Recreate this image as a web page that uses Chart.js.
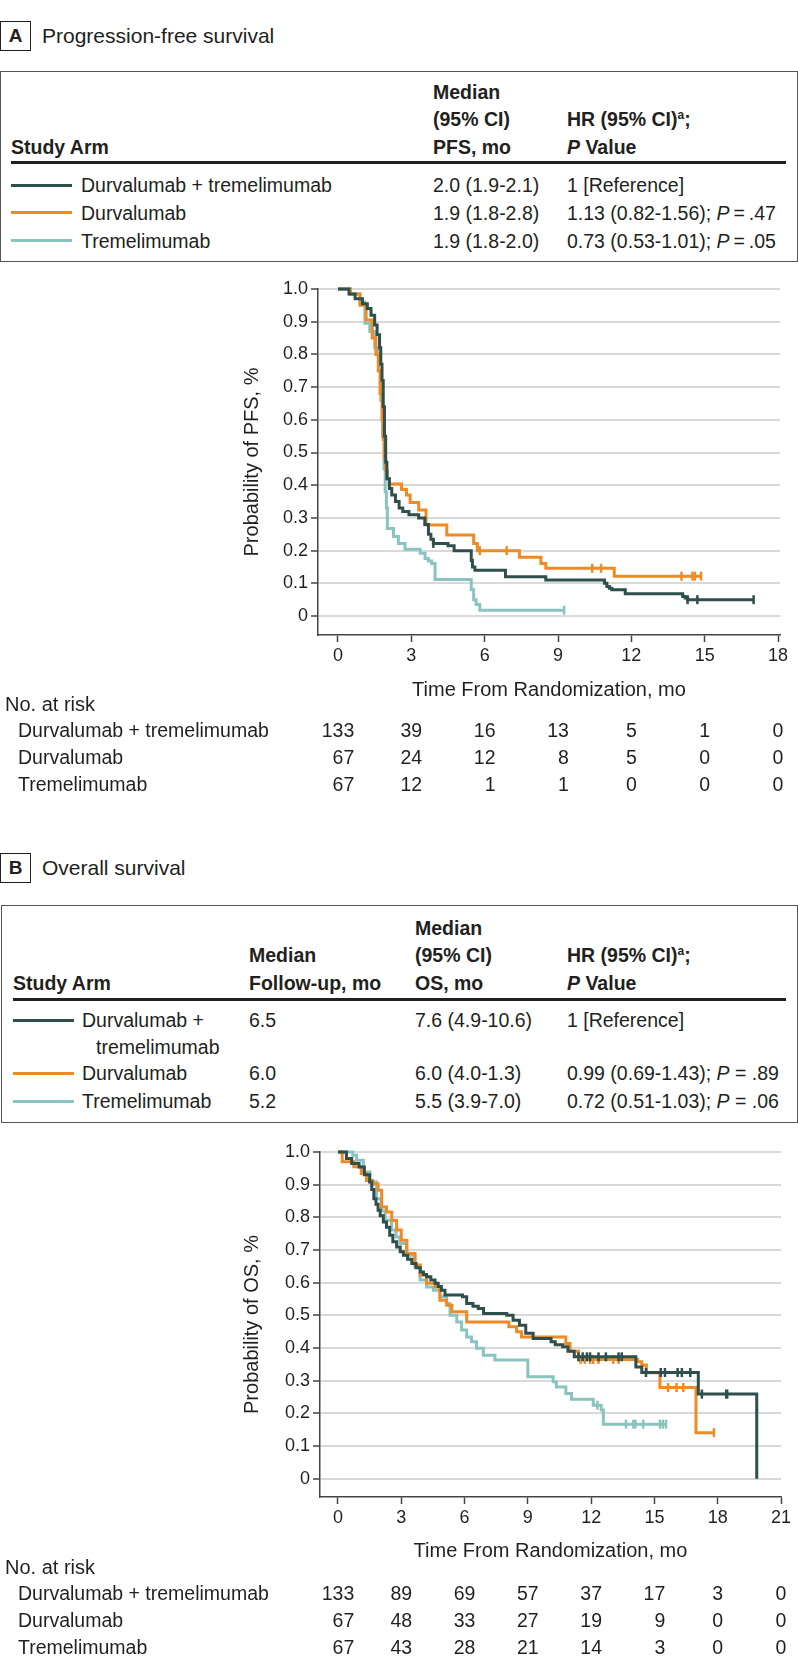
<!DOCTYPE html>
<html>
<head>
<meta charset="utf-8">
<script src="https://cdn.jsdelivr.net/npm/chart.js@4.4.1/dist/chart.umd.min.js"></script>
<style>
body { margin: 0; background: #fff; }
#page { position: relative; width: 798px; height: 1680px; font-family: "Liberation Sans", Arial, sans-serif; color: #231f20; font-size: 19.5px; }
.t { position: absolute; white-space: nowrap; line-height: 24px; }
.b { font-weight: bold; }
.box { position: absolute; border: 1.5px solid #555; box-sizing: border-box; }
.tag { position: absolute; border: 1.5px solid #231f20; box-sizing: border-box; font-weight: bold; text-align: center; width: 31px; height: 30px; line-height: 27px; font-size: 19px; }
.rule { position: absolute; height: 2.5px; background: #231f20; }
.key { position: absolute; height: 3px; width: 61px; }
canvas { position: absolute; left: 0; }
sup { font-size: 12px; line-height: 0; vertical-align: 7px; }
</style>
</head>
<body>
<div id="page">
  <!-- A: progression-free survival -->
  <div class="tag" style="left:0;top:21px">A</div>
  <div class="t" style="left:42px;top:24px;font-size:21px">Progression-free survival</div>
  <div class="box" style="left:0;top:71px;width:798px;height:191px"></div>
  <div class="t b" style="left:433px;top:80px">Median</div>
  <div class="t b" style="left:433px;top:107px">(95% CI)</div>
  <div class="t b" style="left:433px;top:135px">PFS, mo</div>
  <div class="t b" style="left:567px;top:107px">HR (95% CI)<sup>a</sup>;</div>
  <div class="t b" style="left:567px;top:135px"><i>P</i> Value</div>
  <div class="t b" style="left:11px;top:135px">Study Arm</div>
  <div class="rule" style="left:11px;top:161px;width:775px"></div>

  <div class="key" style="left:11px;top:183.5px;background:#2e4f4c"></div>
  <div class="t" style="left:81px;top:173px">Durvalumab + tremelimumab</div>
  <div class="t" style="left:433px;top:173px">2.0 (1.9-2.1)</div>
  <div class="t" style="left:567px;top:173px">1 [Reference]</div>
  <div class="key" style="left:11px;top:211px;background:#f08a24"></div>
  <div class="t" style="left:81px;top:200.5px">Durvalumab</div>
  <div class="t" style="left:433px;top:200.5px">1.9 (1.8-2.8)</div>
  <div class="t" style="left:567px;top:200.5px">1.13 (0.82-1.56); <i>P</i>&thinsp;=&thinsp;.47</div>
  <div class="key" style="left:11px;top:239px;background:#8ac4c0"></div>
  <div class="t" style="left:81px;top:228.5px">Tremelimumab</div>
  <div class="t" style="left:433px;top:228.5px">1.9 (1.8-2.0)</div>
  <div class="t" style="left:567px;top:228.5px">0.73 (0.53-1.01); <i>P</i>&thinsp;=&thinsp;.05</div>

  <canvas id="chartPFS" width="798" height="530" style="top:270px"></canvas>

  <!-- B: overall survival -->
  <div class="tag" style="left:0;top:853px">B</div>
  <div class="t" style="left:42px;top:856px;font-size:21px">Overall survival</div>
  <div class="box" style="left:1px;top:905px;width:797px;height:218px"></div>
  <div class="t b" style="left:415px;top:916px">Median</div>
  <div class="t b" style="left:249px;top:943px">Median</div>
  <div class="t b" style="left:415px;top:943px">(95% CI)</div>
  <div class="t b" style="left:567px;top:943px">HR (95% CI)<sup>a</sup>;</div>
  <div class="t b" style="left:13px;top:971px">Study Arm</div>
  <div class="t b" style="left:249px;top:971px">Follow-up, mo</div>
  <div class="t b" style="left:415px;top:971px">OS, mo</div>
  <div class="t b" style="left:567px;top:971px"><i>P</i> Value</div>
  <div class="rule" style="left:13px;top:998px;width:773px"></div>

  <div class="key" style="left:13px;top:1018.5px;background:#2e4f4c"></div>
  <div class="t" style="left:82px;top:1008px">Durvalumab +</div>
  <div class="t" style="left:96px;top:1034.5px">tremelimumab</div>
  <div class="t" style="left:249px;top:1008px">6.5</div>
  <div class="t" style="left:415px;top:1008px">7.6 (4.9-10.6)</div>
  <div class="t" style="left:567px;top:1008px">1 [Reference]</div>
  <div class="key" style="left:13px;top:1071.5px;background:#f08a24"></div>
  <div class="t" style="left:82px;top:1061px">Durvalumab</div>
  <div class="t" style="left:249px;top:1061px">6.0</div>
  <div class="t" style="left:415px;top:1061px">6.0 (4.0-1.3)</div>
  <div class="t" style="left:567px;top:1061px">0.99 (0.69-1.43); <i>P</i> = .89</div>
  <div class="key" style="left:13px;top:1099.5px;background:#8ac4c0"></div>
  <div class="t" style="left:82px;top:1089px">Tremelimumab</div>
  <div class="t" style="left:249px;top:1089px">5.2</div>
  <div class="t" style="left:415px;top:1089px">5.5 (3.9-7.0)</div>
  <div class="t" style="left:567px;top:1089px">0.72 (0.51-1.03); <i>P</i> = .06</div>

  <canvas id="chartOS" width="798" height="550" style="top:1130px"></canvas>
</div>

<script>
// ---- data ----
const armLabels = ["Durvalumab + tremelimumab", "Durvalumab", "Tremelimumab"];
const armColors = ["#2e4f4c", "#f08a24", "#8ac4c0"];
const probTicks = [0, 0.1, 0.2, 0.3, 0.4, 0.5, 0.6, 0.7, 0.8, 0.9, 1.0];

// PFS, durvalumab + tremelimumab
const pfsTimeDT = [0, 0.45, 0.7, 1.0, 1.2, 1.35, 1.5, 1.6, 1.7, 1.75, 1.8, 1.85, 1.9, 1.95, 2.0, 2.1, 2.2, 2.35, 2.5, 2.65, 2.9, 3.3, 3.55, 3.7, 3.8, 3.9, 4.5, 4.75, 5.45, 5.5, 5.6, 6.85, 8.5, 10.9, 11.0, 11.1, 11.2, 11.75, 14.1, 14.2, 14.3, 17.0];
const pfsSurvDT = [1.0, 0.985, 0.97, 0.955, 0.94, 0.92, 0.89, 0.86, 0.82, 0.77, 0.72, 0.64, 0.55, 0.47, 0.42, 0.39, 0.37, 0.35, 0.33, 0.32, 0.31, 0.30, 0.28, 0.25, 0.235, 0.222, 0.215, 0.20, 0.17, 0.15, 0.14, 0.12, 0.11, 0.10, 0.09, 0.085, 0.08, 0.068, 0.06, 0.055, 0.05, 0.05];
const pfsCensDT = [3.9, 14.3, 14.7, 17.0];
// PFS, durvalumab
const pfsTimeD = [0, 0.5, 0.9, 1.15, 1.4, 1.55, 1.65, 1.72, 1.8, 1.85, 1.9, 1.95, 2.02, 2.1, 2.6, 2.8, 2.95, 3.3, 3.6, 4.45, 5.55, 5.7, 7.42, 8.3, 8.5, 11.3, 14.85];
const pfsSurvD = [1.0, 0.985, 0.95, 0.905, 0.85, 0.8, 0.75, 0.68, 0.6, 0.54, 0.48, 0.445, 0.42, 0.404, 0.387, 0.37, 0.347, 0.324, 0.278, 0.248, 0.222, 0.2, 0.18, 0.161, 0.146, 0.122, 0.122];
const pfsCensD = [5.8, 6.9, 10.4, 10.76, 14.05, 14.5, 14.6, 14.85];
// PFS, tremelimumab
const pfsTimeT = [0, 0.5, 0.9, 1.1, 1.3, 1.5, 1.65, 1.75, 1.82, 1.88, 1.93, 1.98, 2.02, 2.27, 2.47, 2.74, 3.36, 3.56, 3.7, 3.83, 3.97, 5.45, 5.55, 5.65, 5.8, 9.25];
const pfsSurvT = [1.0, 0.985, 0.96, 0.895, 0.87, 0.82, 0.75, 0.66, 0.55, 0.45, 0.38, 0.33, 0.268, 0.243, 0.222, 0.204, 0.192, 0.176, 0.168, 0.161, 0.112, 0.08, 0.05, 0.035, 0.018, 0.018];
const pfsCensT = [9.25];

// OS, durvalumab + tremelimumab
const osTimeDT = [0, 0.4, 0.65, 1.0, 1.25, 1.5, 1.6, 1.7, 1.8, 1.9, 2.0, 2.15, 2.3, 2.45, 2.6, 2.78, 2.95, 3.1, 3.3, 3.5, 3.7, 3.9, 4.05, 4.2, 4.4, 4.6, 4.75, 4.9, 5.07, 5.9, 6.1, 6.4, 6.65, 6.9, 8.0, 8.3, 8.6, 8.9, 9.25, 10.1, 10.3, 10.65, 10.9, 11.2, 14.12, 14.4, 17.08, 19.85];
const osSurvDT = [1.0, 0.98, 0.965, 0.954, 0.93, 0.908, 0.885, 0.857, 0.84, 0.822, 0.805, 0.786, 0.77, 0.745, 0.725, 0.709, 0.695, 0.684, 0.672, 0.659, 0.646, 0.633, 0.625, 0.618, 0.608, 0.598, 0.588, 0.577, 0.562, 0.557, 0.536, 0.528, 0.521, 0.506, 0.5, 0.485, 0.47, 0.445, 0.429, 0.419, 0.41, 0.404, 0.39, 0.373, 0.342, 0.325, 0.259, 0];
const osCensDT = [11.4, 11.6, 11.8, 11.95, 12.35, 12.7, 13.3, 13.45, 14.6, 15.3, 15.5, 16.1, 16.3, 16.7, 17.25, 18.4, 18.45];
// OS, durvalumab
const osTimeD = [0, 0.2, 0.75, 1.1, 1.35, 1.65, 1.9, 2.07, 2.3, 2.55, 2.78, 3.0, 3.26, 3.65, 3.9, 4.2, 4.6, 4.83, 5.15, 5.4, 6.1, 8.1, 8.47, 8.7, 10.8, 11.0, 11.4, 14.2, 14.4, 14.62, 15.26, 16.97, 17.82];
const osSurvD = [1.0, 0.97, 0.955, 0.934, 0.913, 0.903, 0.883, 0.832, 0.816, 0.79, 0.761, 0.73, 0.689, 0.654, 0.623, 0.598, 0.587, 0.546, 0.531, 0.511, 0.48, 0.465, 0.45, 0.434, 0.414, 0.39, 0.365, 0.358, 0.348, 0.324, 0.279, 0.141, 0.141];
const osCensD = [11.5, 11.7, 11.95, 12.1, 12.35, 13.05, 13.3, 15.65, 16.05, 16.37, 17.82];
// OS, tremelimumab
const osTimeT = [0, 0.7, 0.88, 1.2, 1.52, 1.83, 2.05, 2.23, 2.54, 2.75, 2.94, 3.26, 3.65, 3.89, 4.2, 4.52, 4.83, 5.15, 5.31, 5.63, 5.86, 6.1, 6.33, 6.57, 6.89, 7.44, 9.0, 10.2, 10.35, 10.8, 11.07, 12.1, 12.48, 12.58, 15.55];
const osSurvT = [1.0, 0.99, 0.975, 0.939, 0.908, 0.857, 0.82, 0.791, 0.761, 0.74, 0.72, 0.684, 0.648, 0.608, 0.587, 0.577, 0.557, 0.536, 0.5, 0.48, 0.455, 0.434, 0.419, 0.399, 0.378, 0.363, 0.312, 0.297, 0.281, 0.261, 0.243, 0.225, 0.21, 0.167, 0.167];
const osCensT = [12.3, 13.65, 14.0, 14.1, 14.47, 15.26, 15.4, 15.55];

// numbers at risk
const pfsRiskTicks = [0, 3, 6, 9, 12, 15, 18];
const pfsRiskDT = [133, 39, 16, 13, 5, 1, 0];
const pfsRiskD = [67, 24, 12, 8, 5, 0, 0];
const pfsRiskT = [67, 12, 1, 1, 0, 0, 0];
const osRiskTicks = [0, 3, 6, 9, 12, 15, 18, 21];
const osRiskDT = [133, 89, 69, 57, 37, 17, 3, 0];
const osRiskD = [67, 48, 33, 27, 19, 9, 0, 0];
const osRiskT = [67, 43, 28, 21, 14, 3, 0, 0];

const FONT = '"Liberation Sans", Arial, sans-serif';
Chart.defaults.font.family = FONT;
Chart.defaults.color = "#231f20";

// survival value of a step curve at time t
function survAt(times, surv, t) {
  let v = surv[0];
  for (let i = 0; i < times.length; i++) if (times[i] <= t) v = surv[i];
  return v;
}

function armDatasets(times, surv, cens, color) {
  return [
    {
      type: "line",
      data: times.map((t, i) => ({ x: t, y: surv[i] })),
      borderColor: color,
      borderWidth: 3,
      stepped: "before", // horizontal first, then the drop
      pointRadius: 0,
      fill: false,
      clip: false
    },
    {
      type: "scatter",
      data: cens.map(t => ({ x: t, y: survAt(times, surv, t) })),
      borderColor: color,
      pointStyle: "line",
      pointRotation: 90,
      pointRadius: 4.5,
      pointBorderWidth: 2.5,
      pointBorderColor: color,
      clip: false
    }
  ];
}

// number-at-risk table under the x axis
const riskPlugin = {
  id: "risk",
  afterDraw(chart, args, opts) {
    const ctx = chart.ctx;
    const xs = chart.scales.x;
    ctx.save();
    ctx.fillStyle = "#231f20";
    ctx.textBaseline = "middle";
    ctx.textAlign = "left";
    ctx.font = "20px " + FONT;
    ctx.fillText("No. at risk", 5, opts.top);
    ctx.font = "19.5px " + FONT;
    opts.rows.forEach((row, i) => {
      ctx.fillText(armLabels[i], 18, opts.top + opts.gap * (i + 1));
    });
    ctx.textAlign = "right";
    opts.ticks.forEach((t, j) => {
      const cells = opts.rows.map(r => String(r[j]));
      const w = Math.max(...cells.map(s => ctx.measureText(s).width));
      const right = xs.getPixelForValue(t) + w / 2;
      cells.forEach((s, i) => ctx.fillText(s, right, opts.top + opts.gap * (i + 1)));
    });
    ctx.restore();
  }
};

function kmChart(id, cfg) {
  const datasets = []
    .concat(armDatasets(cfg.arms[0][0], cfg.arms[0][1], cfg.arms[0][2], armColors[0]))
    .concat(armDatasets(cfg.arms[1][0], cfg.arms[1][1], cfg.arms[1][2], armColors[1]))
    .concat(armDatasets(cfg.arms[2][0], cfg.arms[2][1], cfg.arms[2][2], armColors[2]));

  return new Chart(document.getElementById(id), {
    type: "line",
    data: { datasets },
    plugins: [riskPlugin],
    options: {
      responsive: false,
      animation: false,
      devicePixelRatio: 1,
      layout: { padding: cfg.padding },
      plugins: {
        legend: { display: false },
        tooltip: { enabled: false },
        risk: cfg.risk
      },
      scales: {
        x: {
          type: "linear",
          min: cfg.xMin,
          max: cfg.xMax,
          afterBuildTicks: s => { s.ticks = cfg.risk.ticks.map(v => ({ value: v })); },
          afterFit: s => { s.height = cfg.xHeight; },
          ticks: { autoSkip: false, maxRotation: 0, padding: 3, font: { size: 18 }, color: "#231f20" },
          grid: { drawOnChartArea: false, drawTicks: true, tickLength: 7, tickColor: "#444", tickWidth: 1.5 },
          border: { display: true, color: "#444", width: 1.5 },
          title: { display: true, text: "Time From Randomization, mo", font: { size: 20 }, padding: { top: 0, bottom: 0 }, color: "#231f20" }
        },
        y: {
          type: "linear",
          min: cfg.yMin,
          max: 1.0,
          afterBuildTicks: s => { s.ticks = probTicks.map(v => ({ value: v })); },
          afterFit: s => { s.width = cfg.yWidth; },
          ticks: {
            autoSkip: false,
            padding: 3,
            font: { size: 18 },
            color: "#231f20",
            callback: v => (v === 0 ? "0" : v.toFixed(1))
          },
          grid: { color: "#d9d9d9", lineWidth: 2, drawTicks: true, tickLength: 7, tickColor: "#444", tickWidth: 1.5 },
          border: { display: true, color: "#444", width: 1.5 },
          title: { display: true, text: cfg.yTitle, font: { size: 20 }, padding: { top: 4, bottom: 0 }, color: "#231f20" }
        }
      }
    }
  });
}

kmChart("chartPFS", {
  arms: [[pfsTimeDT, pfsSurvDT, pfsCensDT], [pfsTimeD, pfsSurvD, pfsCensD], [pfsTimeT, pfsSurvT, pfsCensT]],
  xMin: -0.818, xMax: 18.08, yMin: -0.058,
  yTitle: "Probability of PFS, %",
  padding: { left: 236, right: 18, top: 19, bottom: 98 },
  yWidth: 82, xHeight: 67,
  risk: { ticks: pfsRiskTicks, rows: [pfsRiskDT, pfsRiskD, pfsRiskT], top: 435, gap: 27 }
});

kmChart("chartOS", {
  arms: [[osTimeDT, osSurvDT, osCensDT], [osTimeD, osSurvD, osCensD], [osTimeT, osSurvT, osCensT]],
  xMin: -0.853, xMax: 21.0, yMin: -0.056,
  yTitle: "Probability of OS, %",
  padding: { left: 236, right: 17, top: 22, bottom: 117 },
  yWidth: 84, xHeight: 66,
  risk: { ticks: osRiskTicks, rows: [osRiskDT, osRiskD, osRiskT], top: 438, gap: 27 }
});
</script>
</body>
</html>
